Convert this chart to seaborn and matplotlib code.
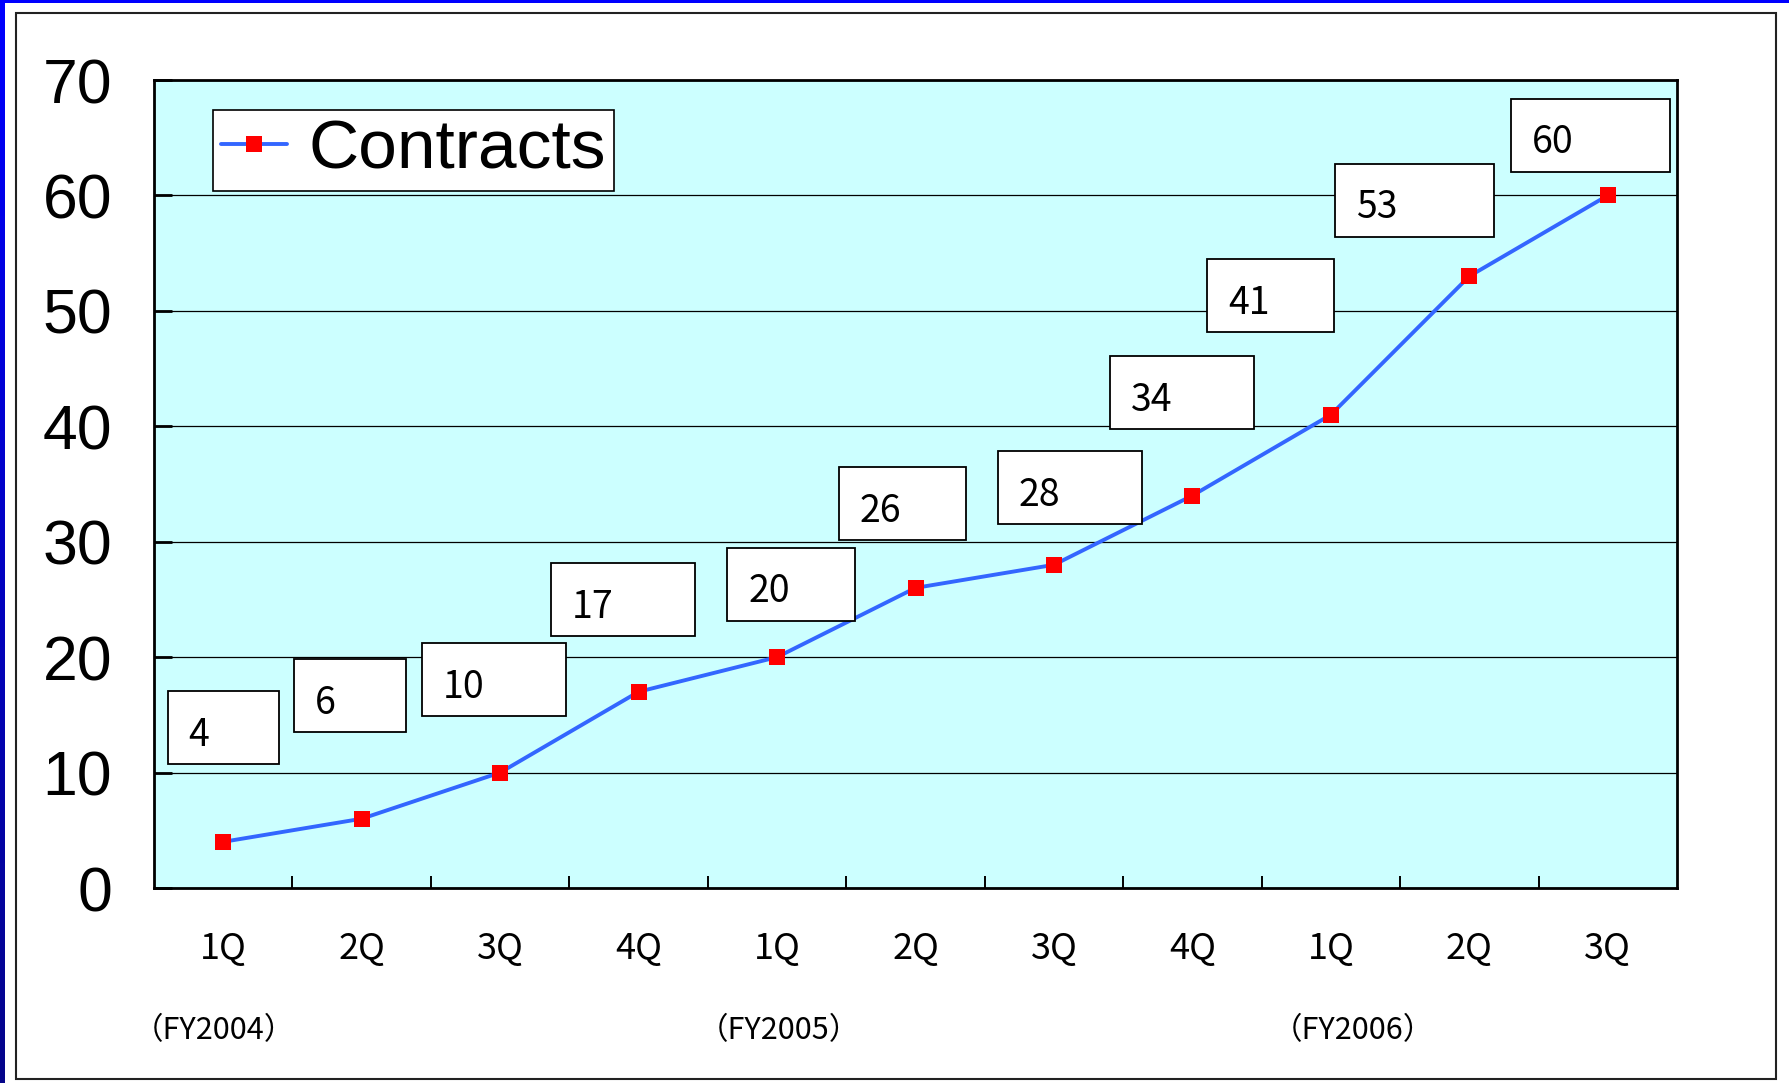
import numpy as np
import pandas as pd
import matplotlib.pyplot as plt
import matplotlib.transforms as mtransforms
from matplotlib.colors import LinearSegmentedColormap
from matplotlib.patches import Rectangle
import seaborn as sns

# chart data
quarters = ['1Q', '2Q', '3Q', '4Q', '1Q', '2Q', '3Q', '4Q', '1Q', '2Q', '3Q']
contracts = [4, 6, 10, 17, 20, 26, 28, 34, 41, 53, 60]
fiscal_years = ['（FY2004）', '（FY2005）', '（FY2006）']
fy_first_quarter = [0, 4, 8]

# hand placement of the value boxes (pixels from the point: dx, dy) and their widths
label_nudge = [(0, 114), (-12, 123), (-6, 93), (-16, 92), (14, 73), (-13, 84),
               (16, 77), (-10, 103), (-60, 119), (-55, 76), (-17, 60)]
label_width = [111, 112, 144, 144, 128, 127, 144, 144, 127, 159, 159]
fy_nudge = [-9, 2, 22]

W, H, DPI = 1789, 1083, 100
JP = 'Noto Sans CJK JP'

sns.set_style('white')
plt.rcParams['font.family'] = ['Liberation Sans', 'DejaVu Sans']
plt.rcParams['text.color'] = 'black'
plt.rcParams['xtick.color'] = 'black'
plt.rcParams['ytick.color'] = 'black'
plt.rcParams['xtick.labelcolor'] = 'black'
plt.rcParams['ytick.labelcolor'] = 'black'

fig = plt.figure(figsize=(W / DPI, H / DPI), dpi=DPI)

# slide background: blue frame, white panel
bg = fig.add_axes([0, 0, 1, 1], zorder=-10)
frame_cmap = LinearSegmentedColormap.from_list('frame', ['#05058a', '#0000ff'])
bg.imshow(np.linspace(1, 0, 256).reshape(-1, 1), cmap=frame_cmap, aspect='auto',
          extent=[0, W, 0, H])
bg.add_patch(Rectangle((5, 0), W - 5, H - 3, fc='white', ec='none'))
bg.add_patch(Rectangle((16, 4), 1760, 1066, fc='none', ec='#222222', lw=1.5))
bg.set_xlim(0, W)
bg.set_ylim(0, H)
bg.axis('off')

ax = fig.add_axes([154 / W, (H - 888) / H, 1523 / W, 808 / H])
ax.set_facecolor('#ccffff')

df = pd.DataFrame({'pos': np.arange(len(contracts)), 'Contracts': contracts})
sns.lineplot(data=df, x='pos', y='Contracts', ax=ax, color='#3366ff', lw=2.8,
             marker='s', markersize=11.5, markerfacecolor='red',
             markeredgecolor='red', markeredgewidth=0, label='Contracts')

ax.set_xlim(-0.5, len(contracts) - 0.5)
ax.set_ylim(0, 70)
ax.set_yticks(range(0, 71, 10))
ax.grid(axis='y', color='black', lw=0.9)
ax.set_axisbelow(True)
ax.set_xlabel('')
ax.set_ylabel('')

ax.set_xticks(range(len(quarters)))
ax.set_xticklabels(quarters, fontfamily=JP, fontsize=26)
ax.set_xticks(np.arange(0.5, len(quarters) - 1, 1), minor=True)
ax.tick_params(axis='x', which='major', length=0, pad=31)
ax.tick_params(axis='x', which='minor', direction='in', length=8.5, width=1.4,
               color='black', bottom=True)
ax.tick_params(axis='y', direction='in', length=13, width=2, color='black',
               pad=30, labelsize=45, left=True)
for t in ax.get_yticklabels():
    t.set_fontfamily(['Liberation Sans Narrow', 'Liberation Sans'])

for s in ax.spines.values():
    s.set_color('black')
    s.set_linewidth(2)

leg = ax.legend(loc='upper left', bbox_to_anchor=(0.0387, 0.963), borderaxespad=0,
                frameon=True, fancybox=False, edgecolor='black', framealpha=1,
                prop={'family': 'Liberation Sans', 'size': 50},
                handlelength=0.95, handletextpad=0.3, borderpad=0.12)
leg.get_frame().set_linewidth(1.2)

# fiscal-year captions under the quarter labels
fy_trans = mtransforms.blended_transform_factory(ax.transData, ax.transAxes)
for name, q, nx in zip(fiscal_years, fy_first_quarter, fy_nudge):
    ax.text(q, -0.176, name, transform=fy_trans + mtransforms.ScaledTranslation(nx / DPI, 0, fig.dpi_scale_trans),
            ha='center', va='center', fontfamily=JP, fontsize=22, clip_on=False)

# value boxes
pix = mtransforms.IdentityTransform()
pts = ax.transData.transform(np.column_stack([df['pos'], df['Contracts']]))
for (px, py), val, (dx, dy), w in zip(pts, contracts, label_nudge, label_width):
    cx, cy = px + dx, py + dy
    fig.add_artist(Rectangle((cx - w / 2, cy - 36.5), w, 73, fc='white', ec='black',
                             lw=1.3, transform=pix, zorder=3))
    fig.text(cx - w / 2 + 21, cy - 18, str(val), transform=pix, ha='left',
             va='baseline', fontfamily=JP, fontsize=27, zorder=4)

fig.savefig('out.png', dpi=DPI)
